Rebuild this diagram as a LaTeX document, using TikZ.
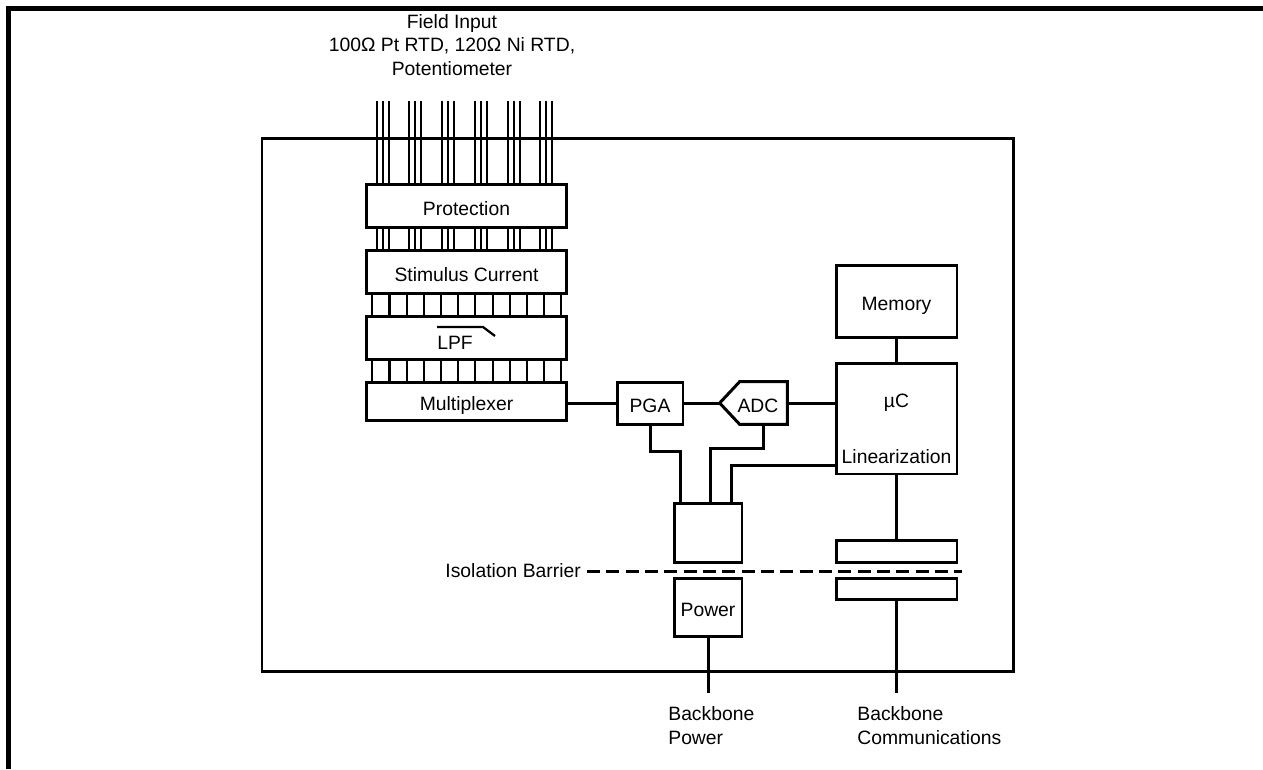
\documentclass[tikz,border=0pt]{standalone}
\usepackage{fontspec}
\setmainfont{Liberation Sans}
\usepackage{tikz}
\usetikzlibrary{positioning}
\usetikzlibrary{calc}
\tikzset{blk/.style={draw, line width=1.7pt, inner sep=0pt, minimum width=2.42cm, text height=11pt, text depth=0pt}}
\tikzset{wire/.style={line width=1.2pt}}
\tikzset{conn/.style={line width=1.7pt}}

\begin{document}
\begin{tikzpicture}[x=0.02cm,y=-0.02cm,font=\fontsize{11}{13.6}\selectfont]
\useasboundingbox (0,0) rectangle (1263,769);
\draw[line width=2.8pt] (8.5,769) -- (8.5,8.5) -- (1263,8.5);
\draw[line width=1.7pt] (262,138) rectangle (1013,671);
\node[align=center] (field) at (452,45) {Field Input\\100Ω Pt RTD, 120Ω Ni RTD,\\Potentiometer};
% input stack
\node[blk, minimum width=4.02cm, minimum height=0.86cm] (prot) at (466.5,205.5) {Protection};
\node[blk, minimum width=4.02cm, minimum height=0.86cm] (stim) at (466.5,271.5) {Stimulus Current};
\node[blk, minimum width=4.02cm, minimum height=0.86cm] (lpf) at (466.5,337.5) {};
\node[blk, minimum width=4.02cm, minimum height=0.76cm] (mux) at (466.5,401) {Multiplexer};
\node (lpftxt) at (455,343) {LPF};
\draw[line width=1.3pt] (437,327) -- (483,327) -- (495,336);
\foreach \g in {382.7,415.3,448.3,481,513.7,546.3} {
\foreach \d in {-6,0,6} {
\draw[wire] (\g+\d,101) -- (prot.north -| {(\g+\d,0)});
\draw[wire] (prot.south -| {(\g+\d,0)}) -- (stim.north -| {(\g+\d,0)});
}
}
\foreach \i in {0,...,11} {
\draw[wire] (stim.south -| {(372.3+17.18*\i,0)}) -- (lpf.north -| {(372.3+17.18*\i,0)});
\draw[wire] (lpf.south -| {(372.3+17.18*\i,0)}) -- (mux.north -| {(372.3+17.18*\i,0)});
}
% signal chain
\node[blk, minimum width=1.32cm, minimum height=0.84cm] (pga) at (650,403) {PGA};
\node[minimum width=1.34cm, minimum height=0.84cm, inner sep=0pt, text height=11pt, text depth=0pt] (adc) at (753.5,403) {\hspace{5pt}ADC};
\draw[conn] (adc.north east) -- (adc.south east) -- ($(adc.south west)+(20,0)$) -- (adc.west) -- ($(adc.north west)+(20,0)$) -- cycle;
\node[blk, minimum height=2.22cm] (uc) at (896.5,418.5) {};
\node (uctxt) at (896.5,403) {µC};
\node (lintxt) at (896.5,457) {Linearization};
\node[blk, minimum height=1.44cm] (mem) at (896.5,301) {Memory};
\draw[conn] (mux.east |- pga.west) -- (pga.west);
\draw[conn] (pga.east) -- (adc.west);
\draw[conn] (adc.east) -- (uc.west |- adc.east);
\draw[conn] (mem.south) -- (uc.north);
% isolated supply and comms
\node[blk, minimum width=1.36cm, minimum height=1.18cm] (iso) at (708,532.5) {};
\node[blk, minimum width=1.36cm, minimum height=1.16cm] (pwr) at (708,607) {Power};
\node[blk, minimum height=0.44cm] (txu) at (896.5,551) {};
\node[blk, minimum height=0.42cm] (txl) at (896.5,588.5) {};
\draw[conn] (pga.south) -- ++(0,26) -| ($(iso.north west)+(8,0)$);
\draw[conn] ($(adc.south east)+(-23.5,0)$) -- ++(0,24) -| ($(iso.north west)+(38,0)$);
\draw[conn] ($(uc.south west)+(0,-10)$) -| ($(iso.north west)+(59,0)$);
\draw[conn] (uc.south) -- (txu.north);
\node[anchor=east] (isolbl) at (587,571) {Isolation Barrier};
\coordinate (isoend) at (962,571);
\draw[conn, dash pattern=on 7.4pt off 3.6pt] (isolbl.east) -- (isoend);
\coordinate (bbpwr) at (708,693);
\coordinate (bbcom) at (896.5,693);
\draw[conn] (pwr.south) -- (bbpwr);
\draw[conn] (txl.south) -- (bbcom);
\node[anchor=north west, align=left, inner sep=0pt] (bbpwrtxt) at (668,706) {Backbone\\Power};
\node[anchor=north west, align=left, inner sep=0pt] (bbcomtxt) at (857,706) {Backbone\\Communications};
\end{tikzpicture}
\end{document}
